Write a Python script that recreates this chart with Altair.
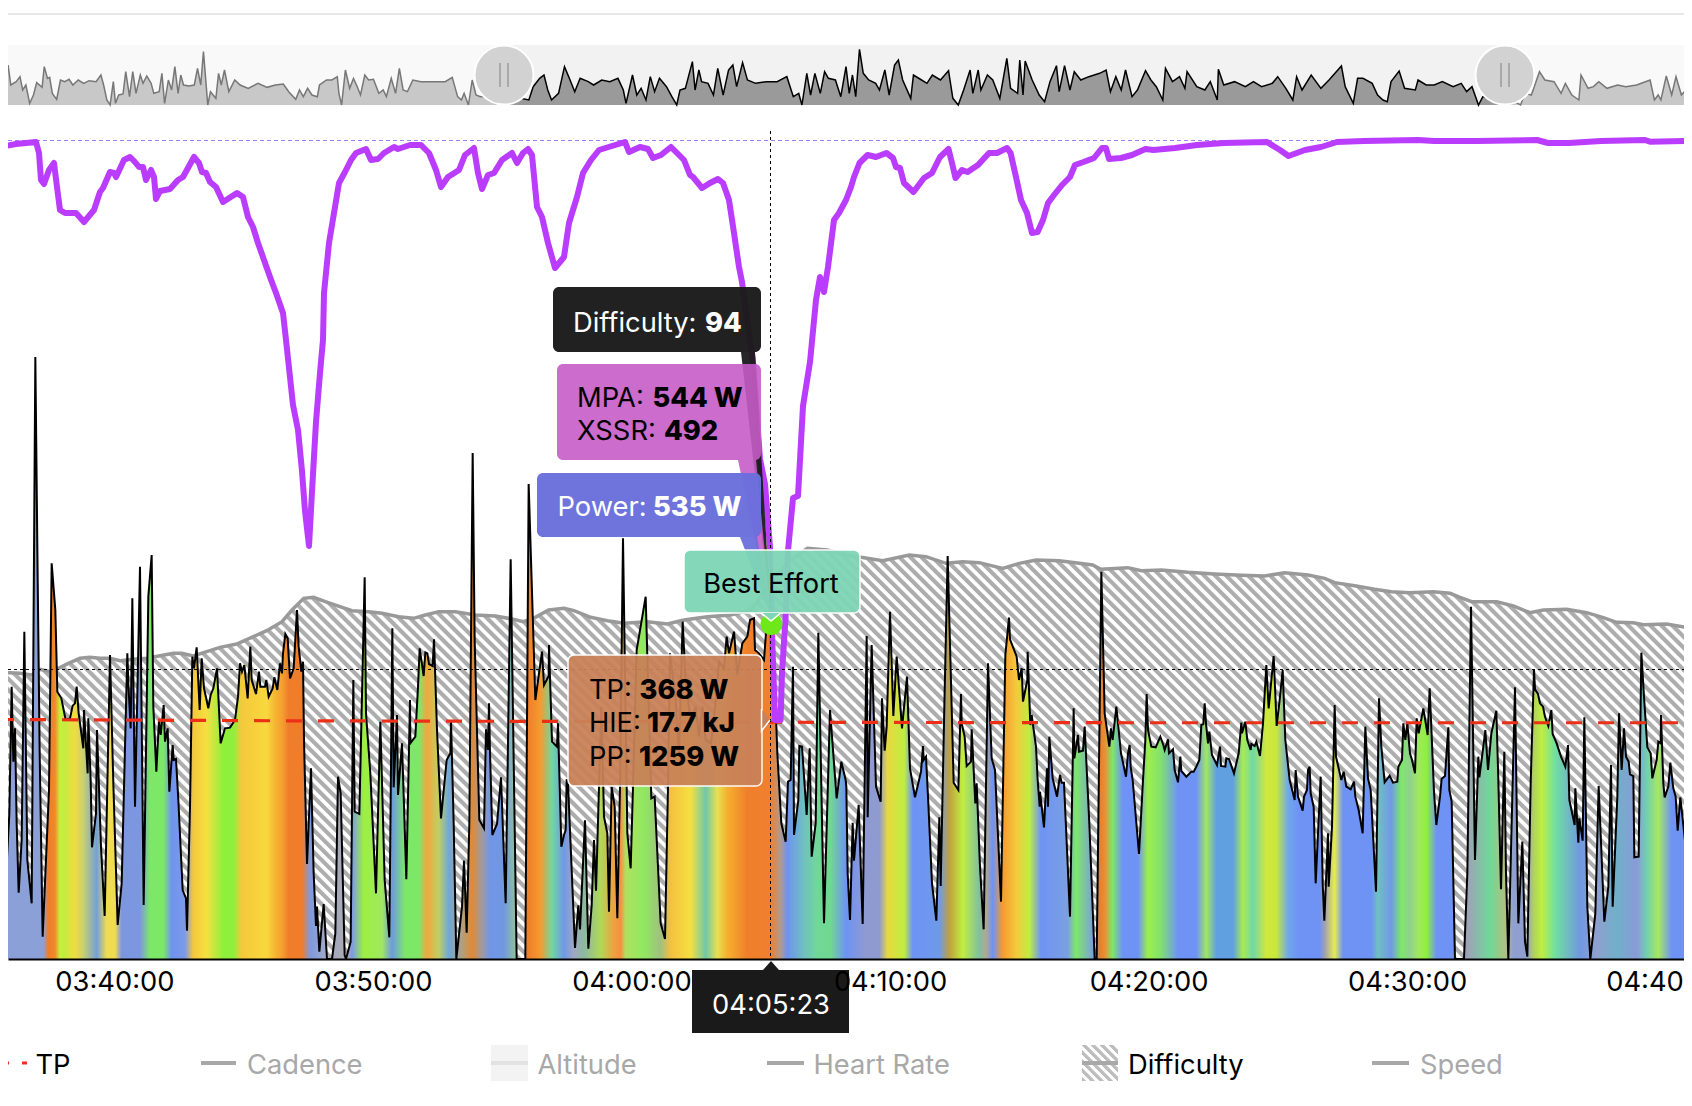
import altair as alt
import pandas as pd

FONT = "Inter"
# Readings taken from six equal strips of the picture: (position in strip, depth below the top of the strip)
pw1 = [(0,590),(5,700),(12,715),(17,1030),(28,820),(35,440),(40,665),(45,565),(50,850),(56,1058),(65,900),(73,275),(82,960),(95,1090),(106,-549),(112,20),(119,640),(128,1190),(147,750),(155,70),(166,210),(172,455),(184,475),(197,540),(210,535),(218,497),(225,490),(230,440),(236,520),(250,625),(252,510),(263,700),(265,535),(272,720),(276,922),(288,820),(291,570),(303,920),(314,1128),(330,345),(340,730),(353,1155),(365,1030),(378,500),(382,340),(385,430),(392,565),(397,175),(405,800),(420,80),(431,1095),(445,170),(455,45),(460,500),(469,695),(477,540),(482,585),(491,495),(495,605),(503,565),(508,755),(518,615),(521,660),(528,657),(535,780),(548,1050),(558,1075),(561,1172),(570,800),(577,350),(582,385),(590,322),(599,510),(605,355),(612,445),(625,505),(632,465),(640,445),(651,385),(662,610),(675,565),(690,563),(705,540),(714,470),(720,370),(726,395),(733,375),(743,475),(751,320),(755,420),(768,462),(777,395),(781,440),(795,440),(799,420),(806,470),(818,445),(823,412),(832,450),(840,370)]
pw2 = [(0,400),(3,340),(10,282),(17,295),(24,415),(35,385),(45,210),(50,320),(58,395),(63,365),(66,600),(75,972),(87,685),(95,1000),(102,1158),(105,1100),(112,1235),(125,1092),(135,1257),(150,1257),(160,1180),(168,710),(176,760),(188,1245),(192,1257),(206,1205),(214,420),(218,815),(232,822),(248,112),(252,520),(265,700),(282,1060),(295,545),(308,1020),(322,1192),(331,265),(335,742),(345,525),(348,765),(360,610),(373,1018),(384,480),(385,610),(400,590),(408,440),(413,325),(425,408),(430,337),(436,340),(441,372),(452,378),(456,298),(465,570),(477,835),(494,660),(505,640),(507,540),(515,850),(523,1257),(540,1100),(546,962),(554,1178),(562,850),(572,-261),(578,300),(592,840),(606,865),(612,568),(618,630),(621,490),(624,635),(631,885),(645,852),(657,712),(671,1090),(686,58),(704,1257),(730,1257),(740,-168),(760,480),(780,335),(786,435),(800,408),(801,315),(810,605),(825,620),(828,550),(838,920)]
pw3 = [(0,885),(5,870),(8,718),(12,730),(33,1224),(43,1096),(48,1168),(63,841),(73,1226),(83,1096),(90,900),(96,1052),(105,740),(112,500),(120,830),(130,880),(135,1115),(143,740),(152,800),(160,1135),(168,740),(177,-5),(190,880),(200,985),(207,740),(218,330),(245,170),(262,775),(272,770),(290,1150),(303,1197),(312,740),(318,340),(335,480),(345,640),(356,245),(365,430),(380,540),(395,500),(405,590),(415,500),(425,600),(440,610),(445,580),(455,480),(465,365),(480,385),(488,290),(495,340),(510,275),(520,405),(535,310),(550,290),(558,240),(570,235),(573,330),(585,340),(600,360),(607,265),(620,280),(625,290),(635,500),(640,640),(652,850),(665,905),(672,725),(680,720),(687,380),(690,885),(703,780),(706,618),(714,620),(728,825),(737,625),(743,950),(755,850),(763,278),(780,1150),(798,510),(818,775),(832,665),(845,720)]
pw4 = [(1,740),(5,1000),(12,1140),(20,848),(24,962),(38,795),(50,1152),(62,288),(65,832),(77,315),(90,740),(104,785),(108,475),(116,632),(122,560),(132,215),(142,528),(152,350),(168,565),(183,410),(192,685),(207,772),(225,695),(231,618),(233,660),(240,650),(247,790),(258,1030),(271,1142),(280,832),(284,1038),(295,500),(305,48),(323,728),(337,750),(345,462),(347,550),(356,590),(362,678),(375,665),(377,568),(388,790),(392,730),(402,980),(413,1168),(426,370),(437,655),(447,690),(465,1085),(478,345),(489,233),(492,298),(512,350),(519,420),(527,385),(531,485),(544,420),(545,335),(553,555),(557,525),(570,620),(575,720),(581,800),(582,755),(594,862),(603,685),(606,800),(610,590),(620,715),(633,770),(642,705),(647,728),(654,728),(672,1130),(683,505),(685,655),(696,585),(699,635),(711,632),(716,560),(730,850),(746,1257),(752,1257),(766,95),(776,520),(790,620),(795,565),(800,600),(811,500),(825,640),(840,710)]
pw5 = [(0,640),(5,615),(8,680),(14,720),(33,942),(45,720),(52,600),(56,462),(60,570),(70,620),(83,622),(97,590),(106,615),(110,630),(120,598),(123,640),(135,628),(140,690),(150,727),(157,650),(160,693),(175,710),(190,695),(197,695),(205,680),(214,660),(220,555),(226,552),(230,490),(234,550),(240,610),(244,575),(252,645),(267,675),(276,620),(279,678),(292,680),(295,655),(303,657),(318,700),(332,640),(340,548),(342,580),(352,545),(358,600),(368,630),(370,612),(380,618),(385,605),(396,648),(405,550),(415,375),(422,505),(437,348),(446,558),(455,480),(464,390),(472,600),(485,720),(500,780),(503,690),(510,770),(524,812),(528,770),(537,750),(540,690),(545,680),(548,760),(557,800),(563,1030),(578,710),(584,1030),(589,1142),(600,880),(602,1040),(612,860),(620,495),(624,650),(640,720),(647,695),(655,740),(668,748),(678,725),(682,770),(692,810),(704,880),(712,560),(720,715),(728,750),(744,1055),(753,475),(760,620),(770,727),(785,707),(795,728),(808,725),(811,680),(822,660),(826,550),(832,600),(838,550)]
pw6 = [(0,640),(6,660),(15,700),(20,535),(26,580),(40,505),(53,585),(59,445),(66,610),(72,755),(79,855),(90,770),(95,716),(105,708),(115,562),(118,750),(125,785),(135,1257),(162,1257),(172,1000),(183,200),(195,960),(205,650),(208,712),(220,620),(226,570),(234,690),(244,580),(259,512),(265,720),(273,1048),(283,635),(288,1000),(295,1257),(315,442),(325,1150),(337,905),(345,1205),(352,1250),(362,730),(372,388),(375,448),(384,462),(390,490),(399,500),(405,530),(415,558),(424,510),(428,582),(440,610),(453,650),(466,680),(474,615),(478,780),(494,855),(496,745),(505,908),(508,835),(518,902),(523,532),(532,1100),(541,1257),(556,1120),(566,738),(583,1145),(595,1040),(603,675),(608,1100),(622,770),(627,520),(635,690),(642,565),(648,650),(656,665),(660,703),(670,708),(673,952),(686,950),(694,338),(702,470),(712,622),(722,640),(727,715),(740,660),(745,605),(752,610),(753,525),(760,730),(764,772),(775,740),(781,668),(790,745),(797,770),(803,872),(811,772),(828,930),(846,510)]

df1 = [(0,400),(30,398),(60,400),(95,405),(122,388),(150,395),(175,385),(205,370),(240,355),(270,352),(300,355),(330,355),(360,362),(400,358),(440,355),(480,347),(520,340),(545,340),(580,348),(620,335),(660,322),(710,312),(760,290),(800,272)]
df2 = [(0,245),(30,210),(65,175),(95,172),(130,185),(165,197),(210,212),(260,215),(300,220),(350,230),(395,235),(430,225),(470,215),(520,215),(580,225),(640,228),(690,237),(725,245),(760,232),(800,210)]
df3 = [(0,205),(30,212),(80,232),(130,242),(180,250),(250,245),(310,252),(360,240),(430,230),(500,225),(560,210),(620,130),(680,60),(730,25),(790,30)]
df4 = [(0,45),(45,52),(110,62),(190,45),(240,50),(300,70),(350,65),(400,68),(470,85),(520,70),(570,60),(640,62),(700,70),(740,75),(765,88)]
df5 = [(0,83),(40,92),(100,90),(180,97),(260,102),(340,106),(410,108),(470,98),(540,105),(590,115),(620,128),(680,137),(740,148),(790,155)]
df6 = [(0,158),(70,155),(120,160),(150,172),(185,185),(260,185),(310,198),(360,218),(400,210),(470,208),(530,218),(580,233),(620,247),(670,248),(700,254),(770,252),(846,265)]

# MPA line, (x, y) in picture pixels
mpa = [(0,143.5),(5,146),(16,144),(36,142),(39,153),(41,180),(44,184),(49,170),(54,163),(57,187),(60,210),(65,213),(76,213),(84,222),(94,210),(100,192),(103,188),(110,172),(114,173),(116,177),(124,160),(130,157),(135,162),(139,167),(143,167),(146,180),(151,170),(154,177),(156,199),(160,191),(170,189),(178,180),(183,177),(194,157),(199,163),(202,172),(206,173),(210,182),(216,187),(223,202),(237,193),(243,197),(248,217),(253,227),(258,243),(264,260),(270,277),(276,293),(283,313),(286,340),(293,405),(298,430),(302,471),(305,511),(309,546),(312.5,483),(316,422),(320,373),(323,340),(324,293),(329,243),(335,207),(339,183),(345,172),(351,160),(356,153),(366,149),(371,160),(378,159),(384,153),(394,147),(398,149),(410,145),(421,145),(429,153),(436,170),(441,187),(448,177),(459,170),(465,155),(474,148),(478,173),(482,189),(488,175),(494,173),(502,160),(512,153),(517,163),(523,153),(528,149),(532,155),(537,207),(542,217),(548,243),(555,268),(564,257),(569,223),(577,197),(583,173),(591,160),(599,150),(612,146),(625,142),(629,152),(640,147),(648,149),(653,158),(661,155),(671,147),(679,155),(684,160),(690,175),(693,177),(702,188),(710,183),(718,179),(723,183),(729,200),(734,233),(739,267),(742,282),(753,362),(760,459),(765,484),(770,547),(772,633),(775,720),(777,720),(780.6,720),(782,673),(785.6,617),(788,551),(793,498),(798,496),(803,406),(810,362),(816,300),(820,277),(824,292),(828,267),(834,220),(839,213),(846,200),(851,187),(854,177),(859.5,163),(867.6,155),(876,157),(886.5,153),(893,158),(896,167),(900,168),(904,183),(913.5,192),(924,178),(932,173),(940,157),(948.5,149),(952,163),(955.5,178),(962,170),(967.5,172),(978,165),(989,153),(997,153),(1007,148),(1010.6,153),(1016,177),(1021,200),(1027,213),(1032,233),(1037.6,232),(1043,220),(1048,203),(1054,195),(1062,185),(1070,177),(1075,165),(1083.5,162),(1094,158),(1102,148),(1106,148),(1109,159),(1121,158),(1132,155),(1145.5,149),(1153.6,150),(1175,148),(1197,145),(1224,143),(1267,142),(1275,147),(1280,150),(1288.5,156),(1305,150),(1321,147),(1337,142),(1364,141),(1418,140),(1434,141),(1477,141),(1537,140),(1548,143),(1569,143),(1601,141),(1645,140),(1650,141.7),(1692,140.7)]

# Overview strip, two halves of the picture
ov1 = [(0,270),(6,200),(10,260),(15,195),(20,255),(30,245),(37,230),(42,270),(48,255),(55,310),(62,285),(68,248),(78,262),(82,200),(88,235),(92,232),(97,280),(105,298),(112,240),(120,245),(128,238),(135,255),(145,240),(155,250),(165,242),(178,245),(187,225),(192,255),(198,300),(204,315),(210,245),(214,310),(220,285),(228,282),(233,215),(240,290),(246,215),(252,280),(260,225),(265,250),(272,228),(280,250),(285,280),(295,275),(300,220),(305,310),(312,240),(318,270),(324,200),(330,280),(335,225),(340,255),(350,258),(360,255),(366,205),(372,255),(377,155),(385,315),(390,275),(400,295),(405,220),(410,255),(416,210),(424,275),(435,240),(445,255),(460,265),(478,250),(495,262),(510,255),(525,252),(535,275),(548,298),(555,270),(562,290),(570,265),(578,285),(588,290),(592,255),(605,240),(615,240),(625,230),(628,280),(633,315),(640,210),(648,265),(655,235),(662,260),(668,285),(676,225),(683,240),(692,238),(702,280),(710,270),(716,290),(725,235),(733,280),(740,205),(747,270),(755,275),(765,240),(780,245),(795,245),(810,245),(825,245),(838,232),(848,290),(855,300),(860,280),(868,315),(875,240),(882,285),(890,290),(934,285),(980,300),(988,260),(1000,235),(1008,225),(1015,270),(1022,300),(1035,280),(1046,200),(1055,235),(1065,275),(1075,235),(1090,245),(1100,255),(1115,240),(1130,245),(1145,235),(1155,270),(1160,310),(1172,225),(1180,285),(1188,265),(1197,300),(1205,230),(1213,275),(1222,235),(1235,260),(1245,290),(1254,315),(1260,270),(1270,265),(1283,185),(1288,270),(1295,210),(1300,245),(1312,250),(1322,285),(1330,205),(1340,285),(1350,210),(1358,195),(1365,260),(1376,188),(1385,240),(1400,250),(1420,245),(1440,245),(1458,230),(1470,290),(1480,280),(1486,315),(1495,220),(1502,285),(1510,220),(1520,280),(1528,215),(1535,235),(1548,240),(1558,290)]
ov2 = [(0,200),(6,280),(12,225),(18,290),(25,148),(32,220),(42,240),(55,250),(62,270),(72,210),(80,285),(90,195),(97,180),(105,240),(120,295),(125,225),(140,240),(150,250),(160,225),(175,240),(190,212),(198,295),(208,315),(218,270),(230,210),(235,280),(245,210),(250,270),(262,225),(272,240),(285,295),(298,175),(305,265),(318,280),(322,180),(328,285),(332,183),(345,240),(358,285),(368,305),(378,245),(390,197),(395,275),(405,197),(415,270),(423,215),(435,240),(450,230),(470,220),(482,210),(490,275),(500,230),(510,270),(518,210),(530,290),(540,270),(555,212),(565,240),(575,260),(587,300),(592,205),(605,245),(618,230),(628,265),(632,215),(650,260),(665,270),(675,245),(688,300),(690,208),(700,255),(720,245),(740,260),(755,245),(770,260),(790,250),(800,230),(815,265),(828,300),(835,230),(845,270),(862,225),(880,265),(895,240),(918,198),(925,260),(940,310),(948,235),(958,235),(975,250),(985,285),(995,300),(1003,305),(1010,245),(1025,213),(1035,265),(1055,270),(1060,240),(1075,255),(1090,255),(1105,245),(1125,260),(1140,250),(1150,275),(1160,260),(1172,315),(1180,290),(1222,290),(1250,315),(1258,280),(1270,285),(1285,215),(1295,240),(1312,245),(1325,280),(1333,250),(1345,285),(1358,300),(1362,225),(1375,265),(1385,260),(1395,245),(1410,265),(1430,255),(1445,260),(1465,255),(1490,240),(1498,300),(1505,285),(1510,300),(1520,228),(1530,285),(1538,230),(1548,285),(1568,250)]

# Zone colour of the fill along the time axis, per strip: (position, colour)
zn1 = [(0,"#b09090"),(10,"#8ca0d8"),(130,"#8ca0d8"),(145,"#ef7d2a"),(165,"#ef8a2a"),(180,"#c8f03c"),(190,"#c0ee40"),(225,"#f0dc40"),(250,"#c8d070"),(290,"#74a0d8"),(320,"#f0dc50"),(345,"#f0dc50"),(365,"#7d96e0"),(420,"#7d96e0"),(450,"#7de868"),(490,"#7de868"),(515,"#6e93f0"),(555,"#7d9ae8"),(580,"#f5c83c"),(620,"#f5e040"),(670,"#8ef03c"),(700,"#8ef03c"),(725,"#f5c83c"),(800,"#f8d83c"),(830,"#f5b030")]
zn2 = [(0,"#f5a030"),(20,"#ef7d2a"),(60,"#ef7d2a"),(85,"#7d9ae0"),(130,"#a0a8c8"),(195,"#aaaab0"),(210,"#7d9ae8"),(245,"#9cf040"),(300,"#a0e860"),(330,"#6e9ae0"),(370,"#7de868"),(410,"#7de868"),(435,"#f0a840"),(470,"#c0d060"),(500,"#70a8d8"),(540,"#b0a080"),(570,"#e08a35"),(600,"#a09aa0"),(625,"#7095e8"),(665,"#7098e0"),(700,"#90c0a0"),(735,"#ef7d2a"),(775,"#f59a30"),(810,"#70d8a0")]
zn3 = [(0,"#7098e8"),(30,"#a0a8c0"),(60,"#8cb8a0"),(110,"#b0d858"),(150,"#f0a040"),(170,"#f59040"),(185,"#b0e060"),(240,"#90e860"),(290,"#a0c080"),(320,"#f5c040"),(380,"#f5e040"),(425,"#70c8a8"),(460,"#e8e050"),(490,"#f5b030"),(550,"#f07f2a"),(620,"#f08030"),(650,"#b09a90"),(670,"#6e93f0"),(720,"#70c0c0"),(760,"#70d898"),(800,"#70d890")]
zn4 = [(0,"#6e93f5"),(60,"#8f9ad0"),(100,"#8f9ad0"),(125,"#e8d840"),(175,"#c0ee40"),(200,"#6e93f5"),(280,"#6e9ae8"),(310,"#c0a040"),(350,"#c0ee40"),(400,"#80c0a0"),(420,"#b0a890"),(440,"#6e93f5"),(470,"#f59a30"),(510,"#f5c83c"),(550,"#c0ee40"),(585,"#6e93f5"),(665,"#7ba0e0"),(690,"#7de868"),(730,"#7db0c0"),(745,"#7098e8"),(760,"#e08030"),(775,"#ef8a30"),(800,"#7de868"),(830,"#6e93f5")]
zn5 = [(0,"#6e93f5"),(30,"#6e93f5"),(60,"#9cf04a"),(100,"#80e070"),(150,"#6e93f5"),(205,"#6e93f5"),(235,"#a0e860"),(265,"#60a0e0"),(315,"#60a0e0"),(345,"#a8ec50"),(375,"#70d8a8"),(415,"#d0e83c"),(445,"#c8e83c"),(480,"#70a8e8"),(510,"#6e93f5"),(575,"#6e93f5"),(590,"#a0a0b0"),(620,"#e8ec50"),(645,"#6e93f5"),(730,"#6e93f5"),(750,"#70c0c0"),(790,"#7098e8"),(820,"#7de868")]
zn6 = [(0,"#90d090"),(25,"#a0e860"),(50,"#8ef03c"),(80,"#6e93f5"),(135,"#6e93f5"),(170,"#a0a0b8"),(240,"#70d898"),(285,"#b0c080"),(310,"#8fa0d0"),(350,"#8fa0d0"),(370,"#b0d060"),(395,"#c0ee40"),(435,"#70e0a0"),(510,"#7098e0"),(560,"#8fa0d0"),(620,"#70b0c8"),(680,"#8a9ad8"),(710,"#70d0b0"),(745,"#a8e860"),(785,"#6e93f5"),(826,"#6e93f5"),(846,"#88c8a0")]

tp_line = [(0,368.5),(846,366.5),(1692,365.5),(2538,364),(3384,363.5),(5076,363.5)]
tick_times = [13200 + 600 * i for i in range(7)]

# ---------- calibration of the picture
RIGHT_PX = 1684
W_PX, PLOT_H = RIGHT_PX - 8, 951
W_PER_PX = 1.5385
YMAX = PLOT_H * W_PER_PX
SEC_PER_PX = 600 / 258.55
def t_of(x): return 13200 + (x - 114.4) * SEC_PER_PX
def w_of(y): return (959 - y) * W_PER_PX

def strips(parts, base=846):
    rows, seen = [], set()
    for i, part in enumerate(parts):
        for s, d in part:
            k = i * base + s
            if k not in seen:
                seen.add(k); rows.append((k, d))
    return rows

power = pd.DataFrame([{"t": t_of(k / 3), "w": w_of(540 + d / 3), "w0": 0} for k, d in strips([pw1, pw2, pw3, pw4, pw5, pw6])])
diff = pd.DataFrame([{"t": t_of(k / 3), "w": w_of(540 + d / 3), "w0": 0} for k, d in strips([df1, df2, df3, df4, df5, df6])])
mpa_df = pd.DataFrame([{"t": t_of(x), "w": w_of(y)} for x, y in mpa])
ov_rows = [(z / 1.853, d) for z, d in ov1] + [(846 + z / 1.853, d) for z, d in ov2]
ov_df = pd.DataFrame([{"px": x, "t": t_of(x), "w": w_of(d / 3), "w0": w_of(105)} for x, d in ov_rows])
tp_df = pd.DataFrame([{"t": t_of(k / 3), "w": v} for k, v in tp_line])

TEXT = 27.3
xs = alt.Scale(domain=[t_of(8), t_of(RIGHT_PX)], range=[0, W_PX], nice=False, zero=False)
ys = alt.Scale(domain=[0, YMAX], range=[PLOT_H, 0], nice=False, zero=False)
axis = alt.Axis(values=tick_times, labelExpr="utcFormat(datum.value*1000,'%H:%M:%S')", title=None, grid=False,
                ticks=False, domain=True, domainColor="#000000", domainWidth=2, labelFont=FONT, labelFontSize=TEXT,
                labelColor="#000000", labelPadding=9, labelOverlap=False, labelFlush=False, labelBound=False, zindex=1)
X = alt.X("t:Q", scale=xs, axis=axis)
Y = alt.Y("w:Q", scale=ys, axis=None)
X2, Y2 = alt.X2("t2:Q"), alt.Y2("w2:Q")

# ---------- gradient fills
def hatch(w, h, period, col, white="#ffffff"):
    n = int((w + h) / period)
    stops = []
    for i in range(n):
        for off, c in ((0.0, col), (0.40, col), (0.54, white), (0.88, white)):
            stops.append(alt.GradientStop(color=c, offset=(i + off) / n))
    k = (w + h) / (w * w + h * h)
    return alt.Gradient(gradient="linear", stops=stops, x1=0, y1=1, x2=w * k, y2=1 - h * k)

zone_rows = strips([zn1, zn2, zn3, zn4, zn5, zn6])
rainbow = alt.Gradient(gradient="linear", x1=0, x2=1, y1=0, y2=0,
                       stops=[alt.GradientStop(color=c, offset=k / (6 * 846)) for k, c in zone_rows])
diff_h = (diff["w"].max()) / W_PER_PX
hatch_main = hatch(1692, diff_h, 11, "#adadad")
hatch_key = hatch(36, 36, 9, "#bdbdbd")

# ---------- helpers for the annotation marks
def box(x1, x2, y1, y2, fill, **kw):
    d = pd.DataFrame([{"t": t_of(x1), "t2": t_of(x2), "w": w_of(y1), "w2": w_of(y2)}])
    return alt.Chart(d).mark_rect(fill=fill, **kw).encode(x=X, x2=X2, y=Y, y2=Y2)

def hline(x1, x2, y, color, width=1, dash=None, **kw):
    d = pd.DataFrame([{"t": t_of(x1), "t2": t_of(x2), "w": w_of(y)}])
    if dash:
        kw["strokeDash"] = dash
    return alt.Chart(d).mark_rule(color=color, strokeWidth=width, **kw).encode(x=X, x2=X2, y=Y)

def vline(x, y1, y2, color, width=1, dash=None):
    d = pd.DataFrame([{"t": t_of(x), "w": w_of(y1), "w2": w_of(y2)}])
    kw = {"strokeDash": dash} if dash else {}
    return alt.Chart(d).mark_rule(color=color, strokeWidth=width, **kw).encode(x=X, y=Y, y2=Y2)

def label(x, y, s, color="#000000", weight="normal", size=TEXT, align="left"):
    d = pd.DataFrame([{"t": t_of(x), "w": w_of(y + 2.5), "s": s}])
    return alt.Chart(d).mark_text(font=FONT, fontSize=size, fontWeight=weight, color=color, align=align,
                                  baseline="middle").encode(x=X, y=Y, text="s:N")

def tri(rows, fill, opacity=1.0):
    # rows: (x, upper y, lower y)
    d = pd.DataFrame([{"t": t_of(x), "w": w_of(a), "w2": w_of(b)} for x, a, b in rows])
    return alt.Chart(d).mark_area(fill=fill, opacity=opacity, line=False).encode(x=X, y=Y, y2=Y2)

def stroke_path(pts, color, width):
    d = pd.DataFrame([{"t": t_of(x), "w": w_of(y)} for x, y in pts])
    return alt.Chart(d).mark_line(color=color, strokeWidth=width).encode(x=X, y=Y)

def tail(xa, xb, y, ax, ay, fill, opacity=1.0):
    """triangle with top edge from xa to xb at height y, apex (ax, ay)"""
    yb_lower = y + (ay - y) * (xb - xa) / (ax - xa)
    return tri([(xa, y, y), (xb, y, yb_lower), (ax, ay, ay)], fill, opacity)

layers = []
# top rule and overview
layers.append(hline(8, RIGHT_PX, 14, "#e8e8e8", 2))
layers.append(box(8, 504, 45, 105, "#f9f9f9"))
layers.append(box(504, 1505, 45, 105, "#f2f2f2"))
layers.append(box(1505, RIGHT_PX, 45, 105, "#f9f9f9"))
W0 = alt.Y2("w0:Q")
ovl = ov_df[ov_df.px <= 504.1]; ovm = ov_df[(ov_df.px >= 503.9) & (ov_df.px <= 1505.6)]; ovr = ov_df[ov_df.px >= 1505.4]
for part, fill, line in ((ovl, "#c8c8c8", "#777777"), (ovm, "#9a9a9a", "#000000"), (ovr, "#c8c8c8", "#777777")):
    layers.append(alt.Chart(part).mark_area(fill=fill, clip=True).encode(x=X, y=Y, y2=W0))
    layers.append(alt.Chart(part).mark_line(color=line, strokeWidth=1.5, clip=True).encode(x=X, y=Y))
for cx in (504, 1505):
    layers.append(alt.Chart(pd.DataFrame([{"t": t_of(cx), "w": w_of(75)}])).mark_point(
        shape="circle", size=3481, filled=True, fill="#d2d2d2", stroke="#ffffff", strokeWidth=2, opacity=1
    ).encode(x=X, y=Y))
    layers.append(vline(cx - 4, 63, 87, "#808080", 1))
    layers.append(vline(cx + 4, 63, 87, "#808080", 1))

# main plot
layers.append(alt.Chart(diff).mark_area(fill=hatch_main, clip=True).encode(x=X, y=Y, y2=W0))
layers.append(alt.Chart(diff).mark_line(color="#999999", strokeWidth=3.5, clip=True).encode(x=X, y=Y))
layers.append(alt.Chart(power).mark_area(fill=rainbow, clip=True).encode(x=X, y=Y, y2=W0))
layers.append(alt.Chart(power).mark_line(color="#000000", strokeWidth=2, strokeJoin="miter", clip=True).encode(x=X, y=Y))
layers.append(alt.Chart(tp_df).mark_line(color="#ec3018", strokeWidth=3.2, strokeDash=[16, 16], strokeDashOffset=2, clip=True).encode(x=X, y=Y))
layers.append(hline(8, RIGHT_PX, 140.5, "#9a80ff", 1, [4, 3]))
layers.append(alt.Chart(mpa_df).mark_line(color="#b93cff", strokeWidth=6, strokeCap="round", strokeJoin="round", clip=True).encode(x=X, y=Y))
layers.append(vline(770.5, 131, 959, "#000000", 1, [3, 3]))
layers.append(hline(8, RIGHT_PX, 669.5, "#000000", 1, [3, 3]))

# tooltips
APX, APY = 771, 617
layers.append(alt.Chart(pd.DataFrame([{"t": t_of(771.5), "w": w_of(624)}])).mark_point(
    shape="circle", size=480, filled=True, fill="#6fe81a", opacity=1).encode(x=X, y=Y))
layers.append(tail(741, 755, 352, APX, APY, "#1a1a1a", 0.95))
layers.append(box(553, 761, 287, 352, "#1a1a1a", opacity=0.97, cornerRadius=6))
layers.append(tail(738, 756, 460, APX, APY, "#c75cc6", 0.9))
layers.append(box(557, 761, 364, 460, "#c75cc6", opacity=0.9, cornerRadius=6))
layers.append(tail(740, 757, 537, APX, APY, "#6a70dc", 0.95))
layers.append(box(537, 761, 473, 537, "#6a70dc", opacity=0.97, cornerRadius=6))
layers.append(box(684, 860, 550, 613, "#7ed6b6", opacity=0.95, cornerRadius=6, stroke="#ffffff", strokeWidth=1.5))
layers.append(tri([(762, 613, 613), (771, 613, 621), (780, 613, 613)], "#7ed6b6"))
layers.append(stroke_path([(762, 613.5), (771, 621), (780, 613.5)], "#ffffff", 1.5))
layers.append(box(568, 762, 655, 786, "#c98258", opacity=0.94, cornerRadius=6, stroke="#ffffff", strokeWidth=1.5))
layers.append(tri([(761.5, 709, 731), (770, 720, 720)], "#c98258"))
layers.append(stroke_path([(761.5, 709), (770, 720), (761.5, 731)], "#ffffff", 1.5))
layers.append(box(692, 849, 970, 1033, "#1a1a1a"))
layers.append(tri([(763, 970, 970), (771, 961, 970), (779, 970, 970)], "#1a1a1a"))

for x, y, s, c, wt in [
    (573, 321, "Difficulty:", "#ffffff", "normal"), (705, 321, "94", "#ffffff", 800),
    (577, 396, "MPA:", "#000000", "normal"), (652.5, 396, "544 W", "#000000", 800),
    (577, 429, "XSSR:", "#000000", "normal"), (664, 429, "492", "#000000", 800),
    (557.5, 505, "Power:", "#ffffff", "normal"), (653, 505, "535 W", "#ffffff", 800),
    (589, 688, "TP:", "#000000", "normal"), (639.5, 688, "368 W", "#000000", 800),
    (589, 721.5, "HIE:", "#000000", "normal"), (647, 721.5, "17.7 kJ", "#000000", 800),
    (589, 755, "PP:", "#000000", "normal"), (639, 755, "1259 W", "#000000", 800),
]:
    layers.append(label(x, y, s, c, wt))
layers.append(label(771, 582, "Best Effort", align="center"))
layers.append(label(771, 1003, "04:05:23", "#ffffff", align="center"))

# legend
LY = 1063
layers.append(hline(8, 9, LY, "#ec3018", 3))
layers.append(hline(22, 27, LY, "#ec3018", 3))
layers.append(label(35.5, LY, "TP"))
layers.append(hline(201, 236, LY, "#a8a8a8", 4))
layers.append(label(247, LY, "Cadence", "#a8a8a8"))
layers.append(box(491, 528, 1045, 1081, "#f3f3f3"))
layers.append(hline(491, 528, LY, "#e2e2e2", 4))
layers.append(label(537.5, LY, "Altitude", "#a8a8a8"))
layers.append(hline(767, 804, LY, "#a8a8a8", 4))
layers.append(label(813.5, LY, "Heart Rate", "#a8a8a8"))
layers.append(box(1082, 1118, 1045, 1081, hatch_key))
layers.append(hline(1082, 1118, LY, "#a8a8a8", 4))
layers.append(label(1128, LY, "Difficulty"))
layers.append(hline(1372, 1409, LY, "#a8a8a8", 4))
layers.append(label(1420, LY, "Speed", "#a8a8a8"))

chart = alt.layer(*layers).properties(
    width=W_PX, height=PLOT_H,
    autosize=alt.AutoSizeParams(type="none"),
    padding={"left": 0, "top": 0, "right": 0, "bottom": 139},
).configure_view(stroke=None)

chart.save("out.html", embed_options={"renderer": "svg", "actions": False})
